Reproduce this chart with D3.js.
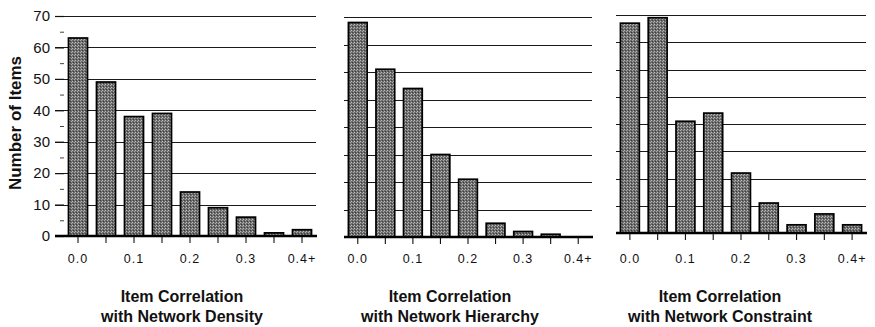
<!DOCTYPE html>
<html>
<head>
<meta charset="utf-8">
<script src="https://cdn.jsdelivr.net/npm/d3@7"></script>
<style>
  body { margin: 0; background: #fff; }
  svg { display: block; }
</style>
</head>
<body>
<svg id="chart" width="875" height="327"></svg>
<script>
// bins of item correlation (0.05 wide), labels shown every other bin
const bins = ["0.00", "0.05", "0.10", "0.15", "0.20", "0.25", "0.30", "0.35", "0.40+"];
const binLabels = ["0.0", "", "0.1", "", "0.2", "", "0.3", "", "0.4+"];

const densityCounts = [63, 49, 38, 39, 14, 9, 6, 1, 2];
const hierarchyCounts = [78, 61, 54, 30, 21, 5, 2, 1, 0];
const constraintCounts = [77, 79, 41, 44, 22, 11, 3, 7, 3];

const titles = [
  ["Item Correlation", "with Network Density"],
  ["Item Correlation", "with Network Hierarchy"],
  ["Item Correlation", "with Network Constraint"]
];
const yMaxes = [70, 80, 80];

// panel layout (pixels)
const panels = [
  { counts: densityCounts, x0: 64, x1: 316, y0: 236, y1: 16, labels: true, tx: 182 },
  { counts: hierarchyCounts, x0: 344, x1: 592, y0: 237, y1: 17, labels: false, tx: 450 },
  { counts: constraintCounts, x0: 616, x1: 866, y0: 233, y1: 15, labels: false, tx: 720 }
];

const svg = d3.select("#chart");
const font = "'Liberation Sans', Arial, Helvetica, sans-serif";

// stipple texture for bars
let defs = svg.append("defs");
let pat = defs.append("pattern")
  .attr("id", "stipple")
  .attr("patternUnits", "userSpaceOnUse")
  .attr("width", 3).attr("height", 3);
pat.append("rect").attr("width", 3).attr("height", 3).attr("fill", "#6c6c6c");
pat.append("rect").attr("x", 0).attr("y", 0).attr("width", 1).attr("height", 1).attr("fill", "#bdbdbd");
pat.append("rect").attr("x", 2).attr("y", 1).attr("width", 1).attr("height", 1).attr("fill", "#a8a8a8");
pat.append("rect").attr("x", 1).attr("y", 2).attr("width", 1).attr("height", 1).attr("fill", "#3c3c3c");

panels.forEach((p, i) => {
  let g = svg.append("g");
  let x = d3.scaleBand().domain(bins).range([p.x0, p.x1]).paddingInner(0.32).paddingOuter(0.16);
  let y = d3.scaleLinear().domain([0, yMaxes[i]]).range([p.y0, p.y1]);
  let gridVals = d3.range(10, yMaxes[i] + 1, 10);
  let gx0 = p.labels ? p.x0 - 9 : p.x0;

  // gridlines
  g.selectAll(".grid")
    .data(gridVals)
    .join("line")
    .attr("x1", gx0).attr("x2", p.x1)
    .attr("y1", d => Math.round(y(d)) + 0.5).attr("y2", d => Math.round(y(d)) + 0.5)
    .attr("stroke", "#1a1a1a")
    .attr("stroke-width", 1.1);

  if (p.labels) {
    let yAxis = d3.axisLeft(y).tickValues(d3.range(0, 71, 10)).tickSize(9).tickPadding(5);
    g.append("g")
      .attr("transform", `translate(${p.x0},0)`)
      .call(yAxis)
      .call(a => a.select(".domain").remove())
      .call(a => a.selectAll("line").attr("stroke", "#111").attr("stroke-width", 1.2))
      .call(a => a.selectAll("text").attr("font-family", font).attr("font-size", 15).attr("fill", "#111"));
    let minor = d3.axisLeft(y).tickValues(d3.range(5, 70, 10)).tickSize(4).tickFormat("");
    g.append("g")
      .attr("transform", `translate(${p.x0},0)`)
      .call(minor)
      .call(a => a.select(".domain").remove())
      .call(a => a.selectAll("line").attr("stroke", "#444").attr("stroke-width", 1));
  }

  // bars
  g.selectAll(".bar")
    .data(p.counts)
    .join("rect")
    .attr("x", (d, j) => x(bins[j]))
    .attr("y", d => y(d))
    .attr("width", x.bandwidth())
    .attr("height", d => y(0) - y(d))
    .attr("fill", "url(#stipple)")
    .attr("stroke", "#000")
    .attr("stroke-width", 1.7);

  // baseline
  g.append("line")
    .attr("x1", gx0).attr("x2", p.x1 + 1)
    .attr("y1", y(0)).attr("y2", y(0))
    .attr("stroke", "#000").attr("stroke-width", 2.5);

  // x axis ticks + labels
  let xAxis = d3.axisBottom(x).tickSize(6).tickPadding(6).tickFormat((d, j) => binLabels[j]);
  g.append("g")
    .attr("transform", `translate(0,${y(0) + 1})`)
    .call(xAxis)
    .call(a => a.select(".domain").remove())
    .call(a => a.selectAll("line").attr("stroke", "#111").attr("stroke-width", 1.1))
    .call(a => a.selectAll("text")
      .attr("font-family", font).attr("font-size", 12.5).attr("fill", "#111")
      .attr("letter-spacing", 1)
      .attr("dy", null)
      .attr("y", 263 - (y(0) + 1)));

  // panel title
  titles[i].forEach((t, k) => {
    svg.append("text")
      .attr("x", p.tx).attr("y", 302 + k * 20)
      .attr("text-anchor", "middle")
      .attr("font-family", font).attr("font-weight", "bold").attr("font-size", 16)
      .attr("fill", "#111")
      .text(t);
  });
});

// y axis title
svg.append("text")
  .attr("transform", "translate(21,123) rotate(-90)")
  .attr("text-anchor", "middle")
  .attr("font-family", font).attr("font-weight", "bold").attr("font-size", 17)
  .attr("fill", "#111")
  .text("Number of Items");
</script>
</body>
</html>
